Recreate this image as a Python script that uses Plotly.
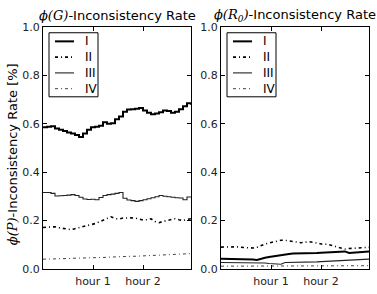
import plotly.graph_objects as go

# time axis in hours
hours = [round(0.08 * i, 2) for i in range(38)]

# phi(G)-inconsistency rate (left)
g_I = [0.586, 0.588, 0.590, 0.580, 0.575, 0.570, 0.564, 0.560, 0.553, 0.545,
       0.560, 0.575, 0.586, 0.588, 0.592, 0.606, 0.600, 0.602, 0.619, 0.630,
       0.650, 0.659, 0.660, 0.662, 0.665, 0.655, 0.645, 0.639, 0.642, 0.648,
       0.655, 0.653, 0.645, 0.650, 0.660, 0.672, 0.685, 0.679]
g_II = [0.171, 0.172, 0.173, 0.174, 0.170, 0.167, 0.165, 0.162, 0.166, 0.170,
        0.173, 0.178, 0.183, 0.187, 0.194, 0.201, 0.210, 0.215, 0.208, 0.206,
        0.210, 0.212, 0.211, 0.210, 0.207, 0.202, 0.203, 0.207, 0.196, 0.191,
        0.196, 0.200, 0.204, 0.207, 0.203, 0.200, 0.204, 0.207]
g_III = [0.316, 0.316, 0.312, 0.301, 0.302, 0.303, 0.305, 0.307, 0.303, 0.296,
         0.289, 0.287, 0.288, 0.286, 0.295, 0.303, 0.307, 0.309, 0.312, 0.316,
         0.292, 0.285, 0.282, 0.279, 0.282, 0.286, 0.290, 0.294, 0.298, 0.303,
         0.300, 0.298, 0.296, 0.294, 0.293, 0.286, 0.297, 0.299]
g_IV = [0.040, 0.040, 0.041, 0.041, 0.042, 0.042, 0.043, 0.043, 0.044, 0.044,
        0.045, 0.045, 0.046, 0.046, 0.047, 0.047, 0.048, 0.049, 0.050, 0.050,
        0.051, 0.051, 0.052, 0.052, 0.053, 0.053, 0.054, 0.055, 0.055, 0.056,
        0.057, 0.057, 0.058, 0.059, 0.060, 0.061, 0.062, 0.063]

# phi(R0)-inconsistency rate (right)
r_I = [0.042, 0.042, 0.042, 0.041, 0.041, 0.041, 0.040, 0.040, 0.039, 0.037,
       0.043, 0.046, 0.049, 0.052, 0.055, 0.057, 0.059, 0.061, 0.063, 0.063,
       0.064, 0.064, 0.065, 0.066, 0.066, 0.067, 0.068, 0.069, 0.070, 0.071,
       0.072, 0.072, 0.066, 0.067, 0.068, 0.069, 0.070, 0.072]
r_II = [0.090, 0.091, 0.090, 0.091, 0.091, 0.089, 0.088, 0.086, 0.086, 0.089,
        0.097, 0.103, 0.107, 0.111, 0.114, 0.118, 0.118, 0.116, 0.114, 0.111,
        0.108, 0.110, 0.112, 0.110, 0.106, 0.103, 0.103, 0.101, 0.096, 0.090,
        0.085, 0.082, 0.084, 0.086, 0.086, 0.087, 0.088, 0.089]
r_III = [0.026, 0.026, 0.025, 0.025, 0.025, 0.025, 0.024, 0.024, 0.024, 0.025,
         0.026, 0.024, 0.022, 0.020, 0.020, 0.019, 0.026, 0.026, 0.027, 0.027,
         0.028, 0.028, 0.029, 0.029, 0.029, 0.030, 0.031, 0.032, 0.033, 0.034,
         0.035, 0.035, 0.036, 0.037, 0.038, 0.038, 0.039, 0.040]
r_IV = [0.011, 0.011, 0.011, 0.011, 0.011, 0.011, 0.011, 0.011, 0.011, 0.011,
        0.011, 0.011, 0.011, 0.011, 0.011, 0.011, 0.012, 0.012, 0.012, 0.012,
        0.012, 0.012, 0.012, 0.012, 0.012, 0.012, 0.012, 0.012, 0.012, 0.012,
        0.013, 0.013, 0.013, 0.013, 0.013, 0.013, 0.013, 0.013]

series_names = ["I", "II", "III", "IV"]
x_tickvals = [1, 2]
x_ticktext = ["hour 1", "hour 2"]
y_tickvals = [0.0, 0.2, 0.4, 0.6, 0.8, 1.0]

styles = [
    dict(color="black", width=2.0, dash="solid"),
    dict(color="black", width=1.6, dash="3px,3px,1px,3px"),
    dict(color="#222222", width=1.1, dash="solid"),
    dict(color="#444444", width=1.0, dash="3px,3px,1px,3px"),
]
shapes_left = ["hv", "linear", "hv", "linear"]

fig = go.Figure()
for name, ys, st, sh in zip(series_names, [g_I, g_II, g_III, g_IV], styles, shapes_left):
    fig.add_trace(go.Scatter(x=hours, y=ys, mode="lines", name=name, line=dict(**st, shape=sh),
                             xaxis="x", yaxis="y", showlegend=False))
for name, ys, st in zip(series_names, [r_I, r_II, r_III, r_IV], styles):
    fig.add_trace(go.Scatter(x=hours, y=ys, mode="lines", name=name, line=dict(**st),
                             xaxis="x2", yaxis="y2", showlegend=False))

W, H = 377, 294
def px_x(p):
    return p / W
def px_y(p):
    return (H - p) / H

PLOT_TOP, PLOT_BOTTOM = 22, 275
PANEL_LEFT = [43, 221]
PANEL_W = 148

axis_common = dict(showline=True, linecolor="black", linewidth=1, mirror="ticks",
                   ticks="inside", ticklen=4, tickwidth=1, tickcolor="black",
                   showgrid=False, zeroline=False,
                   tickfont=dict(family="DejaVu Sans", size=11, color="#222"))

xa = dict(axis_common, range=[0, 2.96], tickvals=x_tickvals, ticktext=x_ticktext,
          ticklabelstandoff=2)
ya = dict(axis_common, range=[0, 1], tickvals=y_tickvals, tickformat=".1f")

# legend boxes drawn as layout decorations, one per panel (matplotlib style)
shapes = []
annotations = []
for left in PANEL_LEFT:
    bx0, bx1, by0, by1 = left + 6, left + 55, 28, 95
    shapes.append(dict(type="rect", xref="paper", yref="paper",
                       x0=px_x(bx0), x1=px_x(bx1), y0=px_y(by1), y1=px_y(by0),
                       line=dict(color="black", width=1), fillcolor="white", layer="above"))
    for i, (name, st) in enumerate(zip(series_names, styles)):
        yc = 37 + i * 16.5
        shapes.append(dict(type="line", xref="paper", yref="paper",
                           x0=px_x(bx0 + 6), x1=px_x(bx0 + 25), y0=px_y(yc), y1=px_y(yc),
                           line=dict(color=st["color"], width=st["width"], dash=st["dash"]),
                           layer="above"))
        annotations.append(dict(text=name, x=px_x(bx0 + 34), y=px_y(yc), xref="paper", yref="paper",
                                showarrow=False, xanchor="left", yanchor="middle",
                                font=dict(family="DejaVu Sans", size=12, color="black")))

math = "font-family:'DejaVu Serif';font-style:italic"
annotations += [
    dict(text=f"<span style=\"{math}\">ϕ(G)</span>-Inconsistency Rate",
         x=px_x(PANEL_LEFT[0] + PANEL_W / 2), y=px_y(10), xref="paper", yref="paper", showarrow=False,
         xanchor="center", yanchor="middle",
         font=dict(family="DejaVu Sans", size=13, color="black")),
    dict(text=f"<span style=\"{math}\">ϕ(R<sub>0</sub>)</span>-Inconsistency Rate",
         x=px_x(PANEL_LEFT[1] + PANEL_W / 2), y=px_y(10), xref="paper", yref="paper", showarrow=False,
         xanchor="center", yanchor="middle",
         font=dict(family="DejaVu Sans", size=13, color="black")),
    dict(text=f"<span style=\"{math}\">ϕ(P)</span>-Inconsistency Rate [%]",
         x=px_x(12), y=px_y(155), xref="paper", yref="paper", showarrow=False,
         xanchor="center", yanchor="middle", textangle=-90,
         font=dict(family="DejaVu Sans", size=13, color="black")),
]

fig.update_layout(
    width=W, height=H,
    margin=dict(l=0, r=0, t=0, b=0),
    font=dict(family="DejaVu Sans", color="#000000"),
    paper_bgcolor="white", plot_bgcolor="white",
    xaxis=dict(xa, domain=[px_x(PANEL_LEFT[0]), px_x(PANEL_LEFT[0] + PANEL_W)], anchor="y"),
    yaxis=dict(ya, domain=[px_y(PLOT_BOTTOM), px_y(PLOT_TOP)], anchor="x"),
    xaxis2=dict(xa, domain=[px_x(PANEL_LEFT[1]), px_x(PANEL_LEFT[1] + PANEL_W)], anchor="y2"),
    yaxis2=dict(ya, domain=[px_y(PLOT_BOTTOM), px_y(PLOT_TOP)], anchor="x2"),
    shapes=shapes,
    annotations=annotations,
    showlegend=False,
)

fig.write_html("out.html", config={"displayModeBar": False})

# remove the default page margin so the figure sits at the window's top-left corner
with open("out.html", "r", encoding="utf-8") as f:
    html = f.read()
html = html.replace("<head>", "<head><style>html,body{margin:0;padding:0;overflow:hidden}</style>", 1)
with open("out.html", "w", encoding="utf-8") as f:
    f.write(html)
